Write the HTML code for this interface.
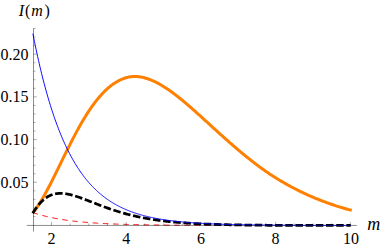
<!DOCTYPE html>
<html><head><meta charset="utf-8"><style>
html,body{margin:0;padding:0;background:#fff;}
svg{display:block;}
</style></head><body>
<svg width="382" height="248" viewBox="0 0 382 248">
<rect width="382" height="248" fill="#fff"/>
<g font-family="'Liberation Serif', serif" font-size="16" fill="#000">
<text x="51.45" y="243.8" text-anchor="middle">2</text>
<text x="126.17" y="243.8" text-anchor="middle">4</text>
<text x="200.89" y="243.8" text-anchor="middle">6</text>
<text x="275.61" y="243.8" text-anchor="middle">8</text>
<text x="350.9" y="243.8" text-anchor="middle">10</text>
<text x="0.5" y="187.86">0.05</text>
<text x="0.5" y="145.14">0.10</text>
<text x="0.5" y="102.42">0.15</text>
<text x="0.5" y="59.7">0.20</text>
<text x="18.7" y="16.4"><tspan font-style="italic">I</tspan><tspan dx="1">(</tspan><tspan font-style="italic" dx="1">m</tspan><tspan dx="1.5">)</tspan></text>
<text x="367.3" y="230.4" font-size="18" font-style="italic">m</text>
</g>
<path d="M32.62,212.42 L32.90,212.52 L33.70,212.79 L34.49,213.06 L35.29,213.32 L36.08,213.57 L36.88,213.82 L37.67,214.07 L38.47,214.31 L39.27,214.54 L40.06,214.77 L40.86,215.00 L41.65,215.22 L42.45,215.43 L43.24,215.64 L44.04,215.85 L44.84,216.05 L45.63,216.25 L46.43,216.44 L47.22,216.63 L48.02,216.82 L48.81,217.00 L49.61,217.18 L50.41,217.35 L51.20,217.53 L52.00,217.69 L52.79,217.86 L53.59,218.02 L54.38,218.17 L55.18,218.33 L55.98,218.48 L56.77,218.62 L57.57,218.77 L58.36,218.91 L59.16,219.05 L59.96,219.18 L60.75,219.31 L61.55,219.44 L62.34,219.57 L63.14,219.69 L63.93,219.82 L64.73,219.93 L65.53,220.05 L66.32,220.17 L67.12,220.28 L67.91,220.39 L68.71,220.49 L69.50,220.60 L70.30,220.70 L71.10,220.80 L71.89,220.90 L72.69,221.00 L73.48,221.09 L74.28,221.18 L75.07,221.27 L75.87,221.36 L76.67,221.45 L77.46,221.53 L78.26,221.61 L79.05,221.70 L79.85,221.78 L80.64,221.85 L81.44,221.93 L82.24,222.00 L83.03,222.08 L83.83,222.15 L84.62,222.22 L85.42,222.29 L86.21,222.35 L87.01,222.42 L87.81,222.48 L88.60,222.55 L89.40,222.61 L90.19,222.67 L90.99,222.73 L91.78,222.79 L92.58,222.84 L93.38,222.90 L94.17,222.95 L94.97,223.00 L95.76,223.06 L96.56,223.11 L97.35,223.16 L98.15,223.21 L98.95,223.25 L99.74,223.30 L100.54,223.35 L101.33,223.39 L102.13,223.44 L102.93,223.48 L103.72,223.52 L104.52,223.56 L105.31,223.60 L106.11,223.64 L106.90,223.68 L107.70,223.72 L108.50,223.75 L109.29,223.79 L110.09,223.83 L110.88,223.86 L111.68,223.89 L112.47,223.93 L113.27,223.96 L114.07,223.99 L114.86,224.02 L115.66,224.05 L116.45,224.08 L117.25,224.11 L118.04,224.14 L118.84,224.17 L119.64,224.20 L120.43,224.22 L121.23,224.25 L122.02,224.28 L122.82,224.30 L123.61,224.33 L124.41,224.35 L125.21,224.38 L126.00,224.40 L126.80,224.42 L127.59,224.44 L128.39,224.46 L129.18,224.49 L129.98,224.51 L130.78,224.53 L131.57,224.55 L132.37,224.57 L133.16,224.59 L133.96,224.61 L134.75,224.62 L135.55,224.64 L136.35,224.66 L137.14,224.68 L137.94,224.69 L138.73,224.71 L139.53,224.73 L140.32,224.74 L141.12,224.76 L141.92,224.77 L142.71,224.79 L143.51,224.80 L144.30,224.82 L145.10,224.83 L145.89,224.84 L146.69,224.86 L147.49,224.87 L148.28,224.88 L149.08,224.90 L149.87,224.91 L150.67,224.92 L151.47,224.93 L152.26,224.94 L153.06,224.95 L153.85,224.97 L154.65,224.98 L155.44,224.99 L156.24,225.00 L157.04,225.01 L157.83,225.02 L158.63,225.03 L159.42,225.04 L160.22,225.05 L161.01,225.05 L161.81,225.06 L162.61,225.07 L163.40,225.08 L164.20,225.09 L164.99,225.10 L165.79,225.11 L166.58,225.11 L167.38,225.12 L168.18,225.13 L168.97,225.14 L169.77,225.14 L170.56,225.15 L171.36,225.16 L172.15,225.16 L172.95,225.17 L173.75,225.18 L174.54,225.18 L175.34,225.19 L176.13,225.20 L176.93,225.20 L177.72,225.21 L178.52,225.21 L179.32,225.22 L180.11,225.22 L180.91,225.23 L181.70,225.24 L182.50,225.24 L183.29,225.25 L184.09,225.25 L184.89,225.26 L185.68,225.26 L186.48,225.26 L187.27,225.27 L188.07,225.27 L188.86,225.28 L189.66,225.28 L190.46,225.29 L191.25,225.29 L192.05,225.29 L192.84,225.30 L193.64,225.30 L194.44,225.31 L195.23,225.31 L196.03,225.31 L196.82,225.32 L197.62,225.32 L198.41,225.32 L199.21,225.33 L200.01,225.33 L200.80,225.33 L201.60,225.34 L202.39,225.34 L203.19,225.34 L203.98,225.34 L204.78,225.35 L205.58,225.35 L206.37,225.35 L207.17,225.36 L207.96,225.36 L208.76,225.36 L209.55,225.36 L210.35,225.37 L211.15,225.37 L211.94,225.37 L212.74,225.37 L213.53,225.38 L214.33,225.38 L215.12,225.38 L215.92,225.38 L216.72,225.38 L217.51,225.39 L218.31,225.39 L219.10,225.39 L219.90,225.39 L220.69,225.39 L221.49,225.40 L222.29,225.40 L223.08,225.40 L223.88,225.40 L224.67,225.40 L225.47,225.40 L226.26,225.41 L227.06,225.41 L227.86,225.41 L228.65,225.41 L229.45,225.41 L230.24,225.41 L231.04,225.41 L231.83,225.42 L232.63,225.42 L233.43,225.42 L234.22,225.42 L235.02,225.42 L235.81,225.42 L236.61,225.42 L237.41,225.42 L238.20,225.43 L239.00,225.43 L239.79,225.43 L240.59,225.43 L241.38,225.43 L242.18,225.43 L242.98,225.43 L243.77,225.43 L244.57,225.43 L245.36,225.44 L246.16,225.44 L246.95,225.44 L247.75,225.44 L248.55,225.44 L249.34,225.44 L250.14,225.44 L250.93,225.44 L251.73,225.44 L252.52,225.44 L253.32,225.44 L254.12,225.44 L254.91,225.45 L255.71,225.45 L256.50,225.45 L257.30,225.45 L258.09,225.45 L258.89,225.45 L259.69,225.45 L260.48,225.45 L261.28,225.45 L262.07,225.45 L262.87,225.45 L263.66,225.45 L264.46,225.45 L265.26,225.45 L266.05,225.45 L266.85,225.45 L267.64,225.46 L268.44,225.46 L269.23,225.46 L270.03,225.46 L270.83,225.46 L271.62,225.46 L272.42,225.46 L273.21,225.46 L274.01,225.46 L274.80,225.46 L275.60,225.46 L276.40,225.46 L277.19,225.46 L277.99,225.46 L278.78,225.46 L279.58,225.46 L280.37,225.46 L281.17,225.46 L281.97,225.46 L282.76,225.46 L283.56,225.46 L284.35,225.46 L285.15,225.46 L285.95,225.46 L286.74,225.47 L287.54,225.47 L288.33,225.47 L289.13,225.47 L289.92,225.47 L290.72,225.47 L291.52,225.47 L292.31,225.47 L293.11,225.47 L293.90,225.47 L294.70,225.47 L295.49,225.47 L296.29,225.47 L297.09,225.47 L297.88,225.47 L298.68,225.47 L299.47,225.47 L300.27,225.47 L301.06,225.47 L301.86,225.47 L302.66,225.47 L303.45,225.47 L304.25,225.47 L305.04,225.47 L305.84,225.47 L306.63,225.47 L307.43,225.47 L308.23,225.47 L309.02,225.47 L309.82,225.47 L310.61,225.47 L311.41,225.47 L312.20,225.47 L313.00,225.47 L313.80,225.47 L314.59,225.47 L315.39,225.47 L316.18,225.47 L316.98,225.47 L317.77,225.47 L318.57,225.47 L319.37,225.47 L320.16,225.47 L320.96,225.47 L321.75,225.47 L322.55,225.47 L323.34,225.47 L324.14,225.47 L324.94,225.47 L325.73,225.47 L326.53,225.47 L327.32,225.47 L328.12,225.48 L328.92,225.48 L329.71,225.48 L330.51,225.48 L331.30,225.48 L332.10,225.48 L332.89,225.48 L333.69,225.48 L334.49,225.48 L335.28,225.48 L336.08,225.48 L336.87,225.48 L337.67,225.48 L338.46,225.48 L339.26,225.48 L340.06,225.48 L340.85,225.48 L341.65,225.48 L342.44,225.48 L343.24,225.48 L344.03,225.48 L344.83,225.48 L345.63,225.48 L346.42,225.48 L347.22,225.48 L348.01,225.48 L348.81,225.48 L349.60,225.48 L350.40,225.48 L350.70,225.48" fill="none" stroke="#ff0000" stroke-width="1" stroke-dasharray="5.5 4.69"/>
<path d="M32.78,213.07 L32.90,212.92 L33.70,211.91 L34.49,210.87 L35.29,209.80 L36.08,208.69 L36.88,207.54 L37.67,206.37 L38.47,205.16 L39.27,203.92 L40.06,202.65 L40.86,201.35 L41.65,200.03 L42.45,198.68 L43.24,197.30 L44.04,195.90 L44.84,194.48 L45.63,193.03 L46.43,191.56 L47.22,190.08 L48.02,188.57 L48.81,187.05 L49.61,185.52 L50.41,183.96 L51.20,182.40 L52.00,180.83 L52.79,179.24 L53.59,177.65 L54.38,176.05 L55.18,174.44 L55.98,172.83 L56.77,171.21 L57.57,169.59 L58.36,167.97 L59.16,166.34 L59.96,164.72 L60.75,163.09 L61.55,161.46 L62.34,159.84 L63.14,158.21 L63.93,156.59 L64.73,154.98 L65.53,153.37 L66.32,151.76 L67.12,150.16 L67.91,148.56 L68.71,146.98 L69.50,145.40 L70.30,143.82 L71.10,142.26 L71.89,140.71 L72.69,139.17 L73.48,137.64 L74.28,136.12 L75.07,134.61 L75.87,133.11 L76.67,131.63 L77.46,130.16 L78.26,128.71 L79.05,127.28 L79.85,125.86 L80.64,124.46 L81.44,123.08 L82.24,121.71 L83.03,120.36 L83.83,119.03 L84.62,117.72 L85.42,116.43 L86.21,115.15 L87.01,113.90 L87.81,112.66 L88.60,111.44 L89.40,110.25 L90.19,109.07 L90.99,107.92 L91.78,106.78 L92.58,105.66 L93.38,104.57 L94.17,103.49 L94.97,102.44 L95.76,101.41 L96.56,100.40 L97.35,99.40 L98.15,98.43 L98.95,97.48 L99.74,96.56 L100.54,95.65 L101.33,94.76 L102.13,93.89 L102.93,93.05 L103.72,92.23 L104.52,91.42 L105.31,90.64 L106.11,89.88 L106.90,89.15 L107.70,88.43 L108.50,87.74 L109.29,87.07 L110.09,86.42 L110.88,85.79 L111.68,85.18 L112.47,84.60 L113.27,84.04 L114.07,83.50 L114.86,82.98 L115.66,82.48 L116.45,82.01 L117.25,81.55 L118.04,81.10 L118.84,80.68 L119.64,80.28 L120.43,79.89 L121.23,79.53 L122.02,79.18 L122.82,78.86 L123.61,78.55 L124.41,78.27 L125.21,78.00 L126.00,77.76 L126.80,77.54 L127.59,77.34 L128.39,77.15 L129.18,76.99 L129.98,76.85 L130.78,76.74 L131.57,76.64 L132.37,76.57 L133.16,76.52 L133.96,76.49 L134.75,76.48 L135.55,76.49 L136.35,76.52 L137.14,76.57 L137.94,76.64 L138.73,76.72 L139.53,76.82 L140.32,76.94 L141.12,77.07 L141.92,77.22 L142.71,77.39 L143.51,77.57 L144.30,77.76 L145.10,77.97 L145.89,78.20 L146.69,78.44 L147.49,78.70 L148.28,78.96 L149.08,79.25 L149.87,79.54 L150.67,79.85 L151.47,80.17 L152.26,80.51 L153.06,80.86 L153.85,81.22 L154.65,81.59 L155.44,81.97 L156.24,82.37 L157.04,82.77 L157.83,83.19 L158.63,83.62 L159.42,84.06 L160.22,84.51 L161.01,84.96 L161.81,85.43 L162.61,85.91 L163.40,86.40 L164.20,86.90 L164.99,87.40 L165.79,87.92 L166.58,88.44 L167.38,88.97 L168.18,89.51 L168.97,90.06 L169.77,90.62 L170.56,91.18 L171.36,91.75 L172.15,92.33 L172.95,92.92 L173.75,93.51 L174.54,94.11 L175.34,94.71 L176.13,95.33 L176.93,95.94 L177.72,96.57 L178.52,97.20 L179.32,97.83 L180.11,98.47 L180.91,99.12 L181.70,99.77 L182.50,100.43 L183.29,101.09 L184.09,101.75 L184.89,102.42 L185.68,103.09 L186.48,103.77 L187.27,104.45 L188.07,105.13 L188.86,105.82 L189.66,106.51 L190.46,107.21 L191.25,107.90 L192.05,108.60 L192.84,109.30 L193.64,110.01 L194.44,110.72 L195.23,111.42 L196.03,112.14 L196.82,112.85 L197.62,113.56 L198.41,114.28 L199.21,115.00 L200.01,115.72 L200.80,116.44 L201.60,117.16 L202.39,117.88 L203.19,118.60 L203.98,119.33 L204.78,120.05 L205.58,120.78 L206.37,121.51 L207.17,122.23 L207.96,122.96 L208.76,123.69 L209.55,124.41 L210.35,125.14 L211.15,125.87 L211.94,126.59 L212.74,127.32 L213.53,128.05 L214.33,128.77 L215.12,129.50 L215.92,130.22 L216.72,130.94 L217.51,131.67 L218.31,132.39 L219.10,133.11 L219.90,133.83 L220.69,134.54 L221.49,135.26 L222.29,135.98 L223.08,136.69 L223.88,137.40 L224.67,138.11 L225.47,138.82 L226.26,139.53 L227.06,140.23 L227.86,140.94 L228.65,141.64 L229.45,142.34 L230.24,143.04 L231.04,143.73 L231.83,144.42 L232.63,145.12 L233.43,145.80 L234.22,146.49 L235.02,147.18 L235.81,147.86 L236.61,148.54 L237.41,149.21 L238.20,149.89 L239.00,150.56 L239.79,151.23 L240.59,151.90 L241.38,152.56 L242.18,153.22 L242.98,153.88 L243.77,154.53 L244.57,155.18 L245.36,155.83 L246.16,156.48 L246.95,157.12 L247.75,157.76 L248.55,158.40 L249.34,159.03 L250.14,159.66 L250.93,160.28 L251.73,160.91 L252.52,161.53 L253.32,162.14 L254.12,162.75 L254.91,163.36 L255.71,163.97 L256.50,164.57 L257.30,165.17 L258.09,165.76 L258.89,166.35 L259.69,166.94 L260.48,167.52 L261.28,168.10 L262.07,168.68 L262.87,169.25 L263.66,169.81 L264.46,170.38 L265.26,170.93 L266.05,171.48 L266.85,172.03 L267.64,172.57 L268.44,173.11 L269.23,173.65 L270.03,174.17 L270.83,174.70 L271.62,175.22 L272.42,175.74 L273.21,176.25 L274.01,176.75 L274.80,177.26 L275.60,177.76 L276.40,178.25 L277.19,178.74 L277.99,179.23 L278.78,179.71 L279.58,180.19 L280.37,180.67 L281.17,181.14 L281.97,181.60 L282.76,182.07 L283.56,182.53 L284.35,182.99 L285.15,183.44 L285.95,183.89 L286.74,184.34 L287.54,184.78 L288.33,185.22 L289.13,185.65 L289.92,186.09 L290.72,186.52 L291.52,186.95 L292.31,187.37 L293.11,187.79 L293.90,188.21 L294.70,188.63 L295.49,189.04 L296.29,189.45 L297.09,189.86 L297.88,190.26 L298.68,190.66 L299.47,191.05 L300.27,191.44 L301.06,191.83 L301.86,192.21 L302.66,192.59 L303.45,192.97 L304.25,193.35 L305.04,193.72 L305.84,194.08 L306.63,194.45 L307.43,194.81 L308.23,195.16 L309.02,195.52 L309.82,195.87 L310.61,196.22 L311.41,196.56 L312.20,196.90 L313.00,197.24 L313.80,197.58 L314.59,197.91 L315.39,198.24 L316.18,198.56 L316.98,198.89 L317.77,199.21 L318.57,199.52 L319.37,199.84 L320.16,200.15 L320.96,200.46 L321.75,200.76 L322.55,201.07 L323.34,201.37 L324.14,201.67 L324.94,201.96 L325.73,202.26 L326.53,202.55 L327.32,202.83 L328.12,203.12 L328.92,203.40 L329.71,203.68 L330.51,203.96 L331.30,204.24 L332.10,204.51 L332.89,204.78 L333.69,205.04 L334.49,205.31 L335.28,205.57 L336.08,205.83 L336.87,206.08 L337.67,206.34 L338.46,206.59 L339.26,206.84 L340.06,207.08 L340.85,207.32 L341.65,207.57 L342.44,207.80 L343.24,208.04 L344.03,208.27 L344.83,208.50 L345.63,208.73 L346.42,208.96 L347.22,209.18 L348.01,209.40 L348.81,209.62 L349.60,209.84 L350.40,210.05 L351.75,210.42" fill="none" stroke="#ff8000" stroke-width="3.0" stroke-linejoin="round"/>
<path d="M32.74,213.34 L32.90,213.09 L33.70,211.80 L34.49,210.55 L35.29,209.35 L36.08,208.20 L36.88,207.10 L37.67,206.04 L38.47,205.03 L39.27,204.08 L40.06,203.17 L40.86,202.31 L41.65,201.49 L42.45,200.72 L43.24,200.00 L44.04,199.32 L44.84,198.69 L45.63,198.09 L46.43,197.54 L47.22,197.03 L48.02,196.56 L48.81,196.13 L49.61,195.73 L50.41,195.37 L51.20,195.04 L52.00,194.74 L52.79,194.48 L53.59,194.25 L54.38,194.05 L55.18,193.87 L55.98,193.73 L56.77,193.61 L57.57,193.51 L58.36,193.44 L59.16,193.39 L59.96,193.37 L60.75,193.37 L61.55,193.38 L62.34,193.42 L63.14,193.47 L63.93,193.54 L64.73,193.63 L65.53,193.74 L66.32,193.86 L67.12,193.99 L67.91,194.14 L68.71,194.30 L69.50,194.48 L70.30,194.66 L71.10,194.86 L71.89,195.06 L72.69,195.28 L73.48,195.50 L74.28,195.74 L75.07,195.98 L75.87,196.23 L76.67,196.48 L77.46,196.74 L78.26,197.01 L79.05,197.29 L79.85,197.56 L80.64,197.85 L81.44,198.13 L82.24,198.43 L83.03,198.72 L83.83,199.02 L84.62,199.32 L85.42,199.62 L86.21,199.93 L87.01,200.23 L87.81,200.54 L88.60,200.85 L89.40,201.16 L90.19,201.47 L90.99,201.78 L91.78,202.09 L92.58,202.41 L93.38,202.72 L94.17,203.03 L94.97,203.34 L95.76,203.65 L96.56,203.96 L97.35,204.27 L98.15,204.57 L98.95,204.88 L99.74,205.18 L100.54,205.48 L101.33,205.78 L102.13,206.08 L102.93,206.38 L103.72,206.67 L104.52,206.97 L105.31,207.26 L106.11,207.54 L106.90,207.83 L107.70,208.11 L108.50,208.39 L109.29,208.67 L110.09,208.95 L110.88,209.22 L111.68,209.49 L112.47,209.75 L113.27,210.02 L114.07,210.28 L114.86,210.54 L115.66,210.79 L116.45,211.05 L117.25,211.29 L118.04,211.54 L118.84,211.78 L119.64,212.02 L120.43,212.26 L121.23,212.50 L122.02,212.73 L122.82,212.95 L123.61,213.18 L124.41,213.40 L125.21,213.62 L126.00,213.84 L126.80,214.05 L127.59,214.26 L128.39,214.47 L129.18,214.67 L129.98,214.87 L130.78,215.07 L131.57,215.26 L132.37,215.45 L133.16,215.64 L133.96,215.83 L134.75,216.01 L135.55,216.19 L136.35,216.37 L137.14,216.55 L137.94,216.72 L138.73,216.89 L139.53,217.05 L140.32,217.22 L141.12,217.38 L141.92,217.53 L142.71,217.69 L143.51,217.84 L144.30,217.99 L145.10,218.14 L145.89,218.29 L146.69,218.43 L147.49,218.57 L148.28,218.71 L149.08,218.84 L149.87,218.98 L150.67,219.11 L151.47,219.24 L152.26,219.36 L153.06,219.49 L153.85,219.61 L154.65,219.73 L155.44,219.84 L156.24,219.96 L157.04,220.07 L157.83,220.18 L158.63,220.29 L159.42,220.40 L160.22,220.50 L161.01,220.61 L161.81,220.71 L162.61,220.81 L163.40,220.91 L164.20,221.00 L164.99,221.09 L165.79,221.19 L166.58,221.28 L167.38,221.37 L168.18,221.45 L168.97,221.54 L169.77,221.62 L170.56,221.70 L171.36,221.78 L172.15,221.86 L172.95,221.94 L173.75,222.01 L174.54,222.09 L175.34,222.16 L176.13,222.23 L176.93,222.30 L177.72,222.37 L178.52,222.44 L179.32,222.50 L180.11,222.57 L180.91,222.63 L181.70,222.69 L182.50,222.75 L183.29,222.81 L184.09,222.87 L184.89,222.93 L185.68,222.98 L186.48,223.04 L187.27,223.09 L188.07,223.14 L188.86,223.19 L189.66,223.24 L190.46,223.29 L191.25,223.34 L192.05,223.39 L192.84,223.43 L193.64,223.48 L194.44,223.52 L195.23,223.57 L196.03,223.61 L196.82,223.65 L197.62,223.69 L198.41,223.73 L199.21,223.77 L200.01,223.81 L200.80,223.85 L201.60,223.88 L202.39,223.92 L203.19,223.95 L203.98,223.99 L204.78,224.02 L205.58,224.05 L206.37,224.09 L207.17,224.12 L207.96,224.15 L208.76,224.18 L209.55,224.21 L210.35,224.24 L211.15,224.26 L211.94,224.29 L212.74,224.32 L213.53,224.34 L214.33,224.37 L215.12,224.40 L215.92,224.42 L216.72,224.44 L217.51,224.47 L218.31,224.49 L219.10,224.51 L219.90,224.54 L220.69,224.56 L221.49,224.58 L222.29,224.60 L223.08,224.62 L223.88,224.64 L224.67,224.66 L225.47,224.68 L226.26,224.70 L227.06,224.71 L227.86,224.73 L228.65,224.75 L229.45,224.77 L230.24,224.78 L231.04,224.80 L231.83,224.81 L232.63,224.83 L233.43,224.85 L234.22,224.86 L235.02,224.87 L235.81,224.89 L236.61,224.90 L237.41,224.92 L238.20,224.93 L239.00,224.94 L239.79,224.95 L240.59,224.97 L241.38,224.98 L242.18,224.99 L242.98,225.00 L243.77,225.01 L244.57,225.02 L245.36,225.03 L246.16,225.04 L246.95,225.06 L247.75,225.07 L248.55,225.07 L249.34,225.08 L250.14,225.09 L250.93,225.10 L251.73,225.11 L252.52,225.12 L253.32,225.13 L254.12,225.14 L254.91,225.15 L255.71,225.15 L256.50,225.16 L257.30,225.17 L258.09,225.18 L258.89,225.18 L259.69,225.19 L260.48,225.20 L261.28,225.20 L262.07,225.21 L262.87,225.22 L263.66,225.22 L264.46,225.23 L265.26,225.24 L266.05,225.24 L266.85,225.25 L267.64,225.25 L268.44,225.26 L269.23,225.26 L270.03,225.27 L270.83,225.27 L271.62,225.28 L272.42,225.28 L273.21,225.29 L274.01,225.29 L274.80,225.30 L275.60,225.30 L276.40,225.31 L277.19,225.31 L277.99,225.31 L278.78,225.32 L279.58,225.32 L280.37,225.33 L281.17,225.33 L281.97,225.33 L282.76,225.34 L283.56,225.34 L284.35,225.34 L285.15,225.35 L285.95,225.35 L286.74,225.35 L287.54,225.36 L288.33,225.36 L289.13,225.36 L289.92,225.36 L290.72,225.37 L291.52,225.37 L292.31,225.37 L293.11,225.38 L293.90,225.38 L294.70,225.38 L295.49,225.38 L296.29,225.39 L297.09,225.39 L297.88,225.39 L298.68,225.39 L299.47,225.39 L300.27,225.40 L301.06,225.40 L301.86,225.40 L302.66,225.40 L303.45,225.40 L304.25,225.41 L305.04,225.41 L305.84,225.41 L306.63,225.41 L307.43,225.41 L308.23,225.41 L309.02,225.42 L309.82,225.42 L310.61,225.42 L311.41,225.42 L312.20,225.42 L313.00,225.42 L313.80,225.42 L314.59,225.43 L315.39,225.43 L316.18,225.43 L316.98,225.43 L317.77,225.43 L318.57,225.43 L319.37,225.43 L320.16,225.43 L320.96,225.44 L321.75,225.44 L322.55,225.44 L323.34,225.44 L324.14,225.44 L324.94,225.44 L325.73,225.44 L326.53,225.44 L327.32,225.44 L328.12,225.44 L328.92,225.45 L329.71,225.45 L330.51,225.45 L331.30,225.45 L332.10,225.45 L332.89,225.45 L333.69,225.45 L334.49,225.45 L335.28,225.45 L336.08,225.45 L336.87,225.45 L337.67,225.45 L338.46,225.45 L339.26,225.46 L340.06,225.46 L340.85,225.46 L341.65,225.46 L342.44,225.46 L343.24,225.46 L344.03,225.46 L344.83,225.46 L345.63,225.46 L346.42,225.46 L347.22,225.46 L348.01,225.46 L348.81,225.46 L349.60,225.46 L350.40,225.46 L350.70,225.46" fill="none" stroke="#000" stroke-width="2.75" stroke-dasharray="7.5 2.69" stroke-linejoin="round"/>
<path d="M32.88,33.63 L32.90,33.72 L33.70,37.76 L34.49,41.72 L35.29,45.59 L36.08,49.38 L36.88,53.09 L37.67,56.72 L38.47,60.27 L39.27,63.76 L40.06,67.16 L40.86,70.50 L41.65,73.76 L42.45,76.96 L43.24,80.09 L44.04,83.15 L44.84,86.15 L45.63,89.08 L46.43,91.96 L47.22,94.77 L48.02,97.52 L48.81,100.22 L49.61,102.86 L50.41,105.44 L51.20,107.97 L52.00,110.44 L52.79,112.87 L53.59,115.24 L54.38,117.56 L55.18,119.84 L55.98,122.06 L56.77,124.24 L57.57,126.37 L58.36,128.46 L59.16,130.50 L59.96,132.50 L60.75,134.46 L61.55,136.38 L62.34,138.26 L63.14,140.10 L63.93,141.89 L64.73,143.65 L65.53,145.38 L66.32,147.07 L67.12,148.72 L67.91,150.33 L68.71,151.92 L69.50,153.47 L70.30,154.98 L71.10,156.47 L71.89,157.92 L72.69,159.35 L73.48,160.74 L74.28,162.10 L75.07,163.44 L75.87,164.75 L76.67,166.02 L77.46,167.28 L78.26,168.50 L79.05,169.70 L79.85,170.88 L80.64,172.03 L81.44,173.15 L82.24,174.26 L83.03,175.34 L83.83,176.39 L84.62,177.43 L85.42,178.44 L86.21,179.43 L87.01,180.40 L87.81,181.35 L88.60,182.28 L89.40,183.19 L90.19,184.08 L90.99,184.95 L91.78,185.81 L92.58,186.64 L93.38,187.46 L94.17,188.26 L94.97,189.05 L95.76,189.81 L96.56,190.56 L97.35,191.30 L98.15,192.02 L98.95,192.72 L99.74,193.41 L100.54,194.09 L101.33,194.75 L102.13,195.40 L102.93,196.03 L103.72,196.65 L104.52,197.26 L105.31,197.85 L106.11,198.44 L106.90,199.01 L107.70,199.56 L108.50,200.11 L109.29,200.64 L110.09,201.17 L110.88,201.68 L111.68,202.18 L112.47,202.67 L113.27,203.15 L114.07,203.62 L114.86,204.08 L115.66,204.53 L116.45,204.97 L117.25,205.41 L118.04,205.83 L118.84,206.24 L119.64,206.65 L120.43,207.05 L121.23,207.43 L122.02,207.81 L122.82,208.19 L123.61,208.55 L124.41,208.91 L125.21,209.26 L126.00,209.60 L126.80,209.93 L127.59,210.26 L128.39,210.58 L129.18,210.89 L129.98,211.20 L130.78,211.50 L131.57,211.80 L132.37,212.09 L133.16,212.37 L133.96,212.64 L134.75,212.91 L135.55,213.18 L136.35,213.44 L137.14,213.69 L137.94,213.94 L138.73,214.18 L139.53,214.42 L140.32,214.65 L141.12,214.88 L141.92,215.11 L142.71,215.32 L143.51,215.54 L144.30,215.75 L145.10,215.95 L145.89,216.15 L146.69,216.35 L147.49,216.54 L148.28,216.73 L149.08,216.91 L149.87,217.09 L150.67,217.27 L151.47,217.44 L152.26,217.61 L153.06,217.78 L153.85,217.94 L154.65,218.10 L155.44,218.26 L156.24,218.41 L157.04,218.56 L157.83,218.70 L158.63,218.85 L159.42,218.99 L160.22,219.12 L161.01,219.26 L161.81,219.39 L162.61,219.52 L163.40,219.64 L164.20,219.76 L164.99,219.88 L165.79,220.00 L166.58,220.12 L167.38,220.23 L168.18,220.34 L168.97,220.45 L169.77,220.56 L170.56,220.66 L171.36,220.76 L172.15,220.86 L172.95,220.96 L173.75,221.05 L174.54,221.15 L175.34,221.24 L176.13,221.33 L176.93,221.41 L177.72,221.50 L178.52,221.58 L179.32,221.67 L180.11,221.75 L180.91,221.82 L181.70,221.90 L182.50,221.98 L183.29,222.05 L184.09,222.12 L184.89,222.19 L185.68,222.26 L186.48,222.33 L187.27,222.40 L188.07,222.46 L188.86,222.53 L189.66,222.59 L190.46,222.65 L191.25,222.71 L192.05,222.77 L192.84,222.82 L193.64,222.88 L194.44,222.93 L195.23,222.99 L196.03,223.04 L196.82,223.09 L197.62,223.14 L198.41,223.19 L199.21,223.24 L200.01,223.29 L200.80,223.33 L201.60,223.38 L202.39,223.42 L203.19,223.47 L203.98,223.51 L204.78,223.55 L205.58,223.59 L206.37,223.63 L207.17,223.67 L207.96,223.71 L208.76,223.75 L209.55,223.78 L210.35,223.82 L211.15,223.85 L211.94,223.89 L212.74,223.92 L213.53,223.95 L214.33,223.99 L215.12,224.02 L215.92,224.05 L216.72,224.08 L217.51,224.11 L218.31,224.14 L219.10,224.16 L219.90,224.19 L220.69,224.22 L221.49,224.25 L222.29,224.27 L223.08,224.30 L223.88,224.32 L224.67,224.35 L225.47,224.37 L226.26,224.39 L227.06,224.42 L227.86,224.44 L228.65,224.46 L229.45,224.48 L230.24,224.50 L231.04,224.52 L231.83,224.54 L232.63,224.56 L233.43,224.58 L234.22,224.60 L235.02,224.62 L235.81,224.64 L236.61,224.66 L237.41,224.67 L238.20,224.69 L239.00,224.71 L239.79,224.72 L240.59,224.74 L241.38,224.76 L242.18,224.77 L242.98,224.79 L243.77,224.80 L244.57,224.81 L245.36,224.83 L246.16,224.84 L246.95,224.86 L247.75,224.87 L248.55,224.88 L249.34,224.89 L250.14,224.91 L250.93,224.92 L251.73,224.93 L252.52,224.94 L253.32,224.95 L254.12,224.96 L254.91,224.98 L255.71,224.99 L256.50,225.00 L257.30,225.01 L258.09,225.02 L258.89,225.03 L259.69,225.04 L260.48,225.05 L261.28,225.05 L262.07,225.06 L262.87,225.07 L263.66,225.08 L264.46,225.09 L265.26,225.10 L266.05,225.11 L266.85,225.11 L267.64,225.12 L268.44,225.13 L269.23,225.14 L270.03,225.14 L270.83,225.15 L271.62,225.16 L272.42,225.16 L273.21,225.17 L274.01,225.18 L274.80,225.18 L275.60,225.19 L276.40,225.20 L277.19,225.20 L277.99,225.21 L278.78,225.21 L279.58,225.22 L280.37,225.22 L281.17,225.23 L281.97,225.24 L282.76,225.24 L283.56,225.25 L284.35,225.25 L285.15,225.26 L285.95,225.26 L286.74,225.26 L287.54,225.27 L288.33,225.27 L289.13,225.28 L289.92,225.28 L290.72,225.29 L291.52,225.29 L292.31,225.29 L293.11,225.30 L293.90,225.30 L294.70,225.31 L295.49,225.31 L296.29,225.31 L297.09,225.32 L297.88,225.32 L298.68,225.32 L299.47,225.33 L300.27,225.33 L301.06,225.33 L301.86,225.34 L302.66,225.34 L303.45,225.34 L304.25,225.35 L305.04,225.35 L305.84,225.35 L306.63,225.35 L307.43,225.36 L308.23,225.36 L309.02,225.36 L309.82,225.36 L310.61,225.37 L311.41,225.37 L312.20,225.37 L313.00,225.37 L313.80,225.38 L314.59,225.38 L315.39,225.38 L316.18,225.38 L316.98,225.38 L317.77,225.39 L318.57,225.39 L319.37,225.39 L320.16,225.39 L320.96,225.39 L321.75,225.40 L322.55,225.40 L323.34,225.40 L324.14,225.40 L324.94,225.40 L325.73,225.40 L326.53,225.41 L327.32,225.41 L328.12,225.41 L328.92,225.41 L329.71,225.41 L330.51,225.41 L331.30,225.41 L332.10,225.42 L332.89,225.42 L333.69,225.42 L334.49,225.42 L335.28,225.42 L336.08,225.42 L336.87,225.42 L337.67,225.42 L338.46,225.43 L339.26,225.43 L340.06,225.43 L340.85,225.43 L341.65,225.43 L342.44,225.43 L343.24,225.43 L344.03,225.43 L344.83,225.43 L345.63,225.44 L346.42,225.44 L347.22,225.44 L348.01,225.44 L348.81,225.44 L349.60,225.44 L350.40,225.44 L350.50,225.44" fill="none" stroke="#0000ff" stroke-width="0.95" stroke-linejoin="round"/>
<line x1="26.8" y1="225.45" x2="356.8" y2="225.45" stroke="#000" stroke-width="0.45"/>
<line x1="33.5" y1="28.3" x2="33.5" y2="231.5" stroke="#000" stroke-width="0.45"/>
<line x1="51.45" y1="225.45" x2="51.45" y2="221.95" stroke="#000" stroke-width="0.32"/>
<line x1="70.13" y1="225.45" x2="70.13" y2="223.45" stroke="#000" stroke-width="0.32"/>
<line x1="88.81" y1="225.45" x2="88.81" y2="223.45" stroke="#000" stroke-width="0.32"/>
<line x1="107.49" y1="225.45" x2="107.49" y2="223.45" stroke="#000" stroke-width="0.32"/>
<line x1="126.17" y1="225.45" x2="126.17" y2="221.95" stroke="#000" stroke-width="0.32"/>
<line x1="144.85" y1="225.45" x2="144.85" y2="223.45" stroke="#000" stroke-width="0.32"/>
<line x1="163.53" y1="225.45" x2="163.53" y2="223.45" stroke="#000" stroke-width="0.32"/>
<line x1="182.21" y1="225.45" x2="182.21" y2="223.45" stroke="#000" stroke-width="0.32"/>
<line x1="200.89" y1="225.45" x2="200.89" y2="221.95" stroke="#000" stroke-width="0.32"/>
<line x1="219.57" y1="225.45" x2="219.57" y2="223.45" stroke="#000" stroke-width="0.32"/>
<line x1="238.25" y1="225.45" x2="238.25" y2="223.45" stroke="#000" stroke-width="0.32"/>
<line x1="256.93" y1="225.45" x2="256.93" y2="223.45" stroke="#000" stroke-width="0.32"/>
<line x1="275.61" y1="225.45" x2="275.61" y2="221.95" stroke="#000" stroke-width="0.32"/>
<line x1="294.29" y1="225.45" x2="294.29" y2="223.45" stroke="#000" stroke-width="0.32"/>
<line x1="312.97" y1="225.45" x2="312.97" y2="223.45" stroke="#000" stroke-width="0.32"/>
<line x1="331.65" y1="225.45" x2="331.65" y2="223.45" stroke="#000" stroke-width="0.32"/>
<line x1="350.33" y1="225.45" x2="350.33" y2="221.95" stroke="#000" stroke-width="0.32"/>
<line x1="33.5" y1="216.49" x2="35.50" y2="216.49" stroke="#000" stroke-width="0.32"/>
<line x1="33.5" y1="207.94" x2="35.50" y2="207.94" stroke="#000" stroke-width="0.32"/>
<line x1="33.5" y1="199.40" x2="35.50" y2="199.40" stroke="#000" stroke-width="0.32"/>
<line x1="33.5" y1="190.85" x2="35.50" y2="190.85" stroke="#000" stroke-width="0.32"/>
<line x1="33.5" y1="182.31" x2="36.90" y2="182.31" stroke="#000" stroke-width="0.32"/>
<line x1="33.5" y1="173.77" x2="35.50" y2="173.77" stroke="#000" stroke-width="0.32"/>
<line x1="33.5" y1="165.22" x2="35.50" y2="165.22" stroke="#000" stroke-width="0.32"/>
<line x1="33.5" y1="156.68" x2="35.50" y2="156.68" stroke="#000" stroke-width="0.32"/>
<line x1="33.5" y1="148.13" x2="35.50" y2="148.13" stroke="#000" stroke-width="0.32"/>
<line x1="33.5" y1="139.59" x2="36.90" y2="139.59" stroke="#000" stroke-width="0.32"/>
<line x1="33.5" y1="131.05" x2="35.50" y2="131.05" stroke="#000" stroke-width="0.32"/>
<line x1="33.5" y1="122.50" x2="35.50" y2="122.50" stroke="#000" stroke-width="0.32"/>
<line x1="33.5" y1="113.96" x2="35.50" y2="113.96" stroke="#000" stroke-width="0.32"/>
<line x1="33.5" y1="105.41" x2="35.50" y2="105.41" stroke="#000" stroke-width="0.32"/>
<line x1="33.5" y1="96.87" x2="36.90" y2="96.87" stroke="#000" stroke-width="0.32"/>
<line x1="33.5" y1="88.33" x2="35.50" y2="88.33" stroke="#000" stroke-width="0.32"/>
<line x1="33.5" y1="79.78" x2="35.50" y2="79.78" stroke="#000" stroke-width="0.32"/>
<line x1="33.5" y1="71.24" x2="35.50" y2="71.24" stroke="#000" stroke-width="0.32"/>
<line x1="33.5" y1="62.69" x2="35.50" y2="62.69" stroke="#000" stroke-width="0.32"/>
<line x1="33.5" y1="54.15" x2="36.90" y2="54.15" stroke="#000" stroke-width="0.32"/>
<line x1="33.5" y1="45.61" x2="35.50" y2="45.61" stroke="#000" stroke-width="0.32"/>
<line x1="33.5" y1="37.06" x2="35.50" y2="37.06" stroke="#000" stroke-width="0.32"/>
<line x1="33.5" y1="28.52" x2="35.50" y2="28.52" stroke="#000" stroke-width="0.32"/>
</svg>
</body></html>
